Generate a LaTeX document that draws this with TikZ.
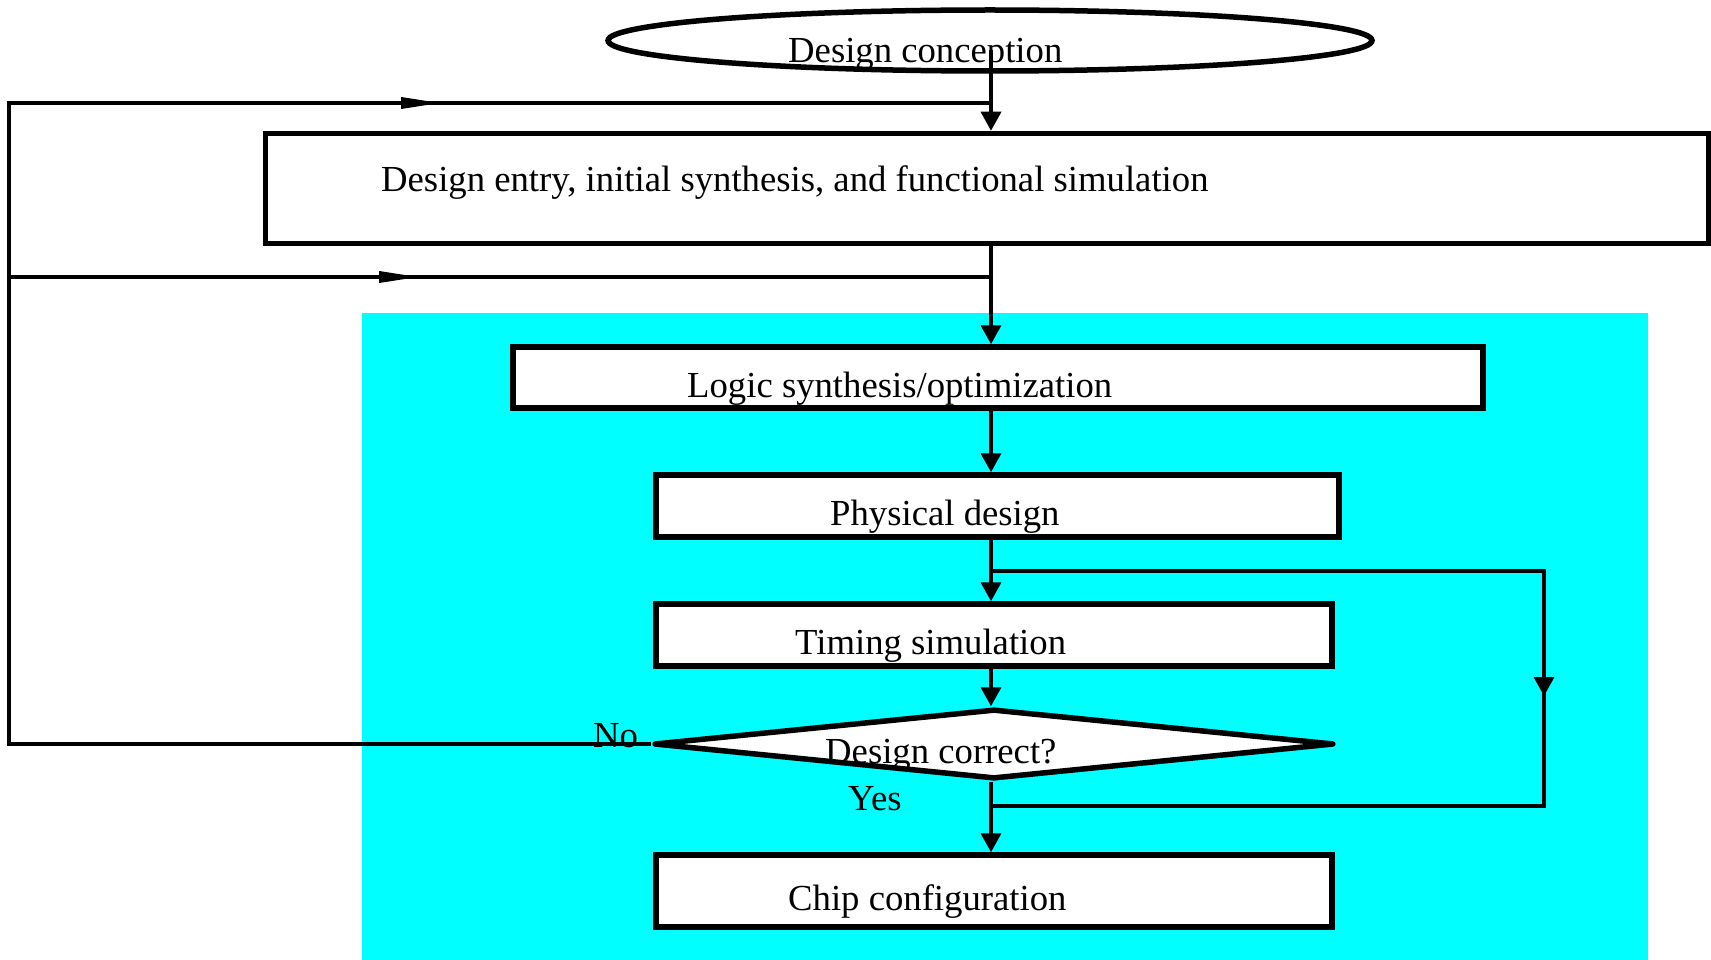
\documentclass[tikz,border=0pt]{standalone}
\usepackage{fontspec}
\setmainfont{Liberation Serif}
\usetikzlibrary{shapes.geometric,arrows.meta,decorations.markings,calc}
\definecolor{panelcyan}{RGB}{0,255,255}
\begin{document}
\begin{tikzpicture}[x=1pt,y=-1pt,
  box/.style={rectangle,draw,line width=5.5pt,fill=white,inner sep=0pt},
  lbl/.style={anchor=base west,inner sep=0pt,font=\fontsize{36.7}{44}\selectfont},
  conn/.style={line width=3.5pt},
  vtip/.style={-{Triangle[length=19pt,width=20pt]}},
  hmark/.style={postaction={decorate},
    decoration={markings,mark=at position #1 with {\arrow{Triangle[length=40pt,width=11pt]}}}},
  vmark/.style={postaction={decorate},
    decoration={markings,mark=at position #1 with {\arrow{Triangle[length=19pt,width=20pt]}}}}]
  \useasboundingbox (0,0) rectangle (1711,960);

  % shaded panel behind the implementation steps
  \fill[panelcyan] (362,313) rectangle (1648,960);

  % flow chart shapes
  \node[ellipse,draw,line width=5.5pt,fill=white,inner sep=0pt,
        minimum width=764pt,minimum height=61pt] (concept) at (990,40.5) {};
  \node[box,minimum width=1443pt,minimum height=110pt] (entry) at (987,188.5) {};
  \node[box,minimum width=970pt,minimum height=61pt] (logic) at (998,377.5) {};
  \node[box,minimum width=683pt,minimum height=62pt] (phys) at (997.5,506) {};
  \node[box,minimum width=676pt,minimum height=62pt] (timing) at (994,635) {};
  \node[diamond,draw,line width=5.5pt,fill=white,inner sep=0pt,line join=round,
        minimum width=680pt,minimum height=70pt] (check) at (994,744) {};
  \node[box,minimum width=676pt,minimum height=72pt] (chip) at (994,891) {};

  % texts
  \node[lbl] (concept-t) at (788,63) {Design conception};
  \node[lbl] (entry-t) at (381,192) {Design entry, initial synthesis, and functional simulation};
  \node[lbl] (logic-t) at (687,397) {Logic synthesis/optimization};
  \node[lbl] (phys-t) at (830,525) {Physical design};
  \node[lbl] (timing-t) at (795,654) {Timing simulation};
  \node[lbl] (check-t) at (825,763) {Design correct?};
  \node[lbl] (no-t) at (593,747) {No};
  \node[lbl] (yes-t) at (848,810) {Yes};
  \node[lbl] (chip-t) at (788,910) {Chip configuration};

  % helper coordinates for the routing
  \coordinate (spine) at (991,0);
  \coordinate (fbx) at (9,0);
  \coordinate (rx) at (1544,0);
  \coordinate (topjoin) at (991,103);
  \coordinate (midjoin) at (991,277);
  \coordinate (split) at (991,571);
  \coordinate (merge) at (991,806);

  % main flow
  \draw[conn,vtip] ($(concept.center -| spine)+(0,10)$) -- (entry.north -| spine);
  \draw[conn,vtip] (entry.south -| spine) -- (logic.north -| spine);
  \draw[conn,vtip] (logic.south -| spine) -- (phys.north -| spine);
  \draw[conn,vtip] (phys.south -| spine) -- (timing.north -| spine);
  \draw[conn,vtip] (timing.south -| spine) -- (check.north -| spine);
  \draw[conn,vtip] (check.south -| spine) -- (chip.north -| spine);

  % feedback on "No"
  \draw[conn,hmark=-550pt] (check.west) -- (check.west -| fbx) -- (fbx |- topjoin) -- (topjoin);
  \draw[conn,hmark=410pt] (fbx |- midjoin) -- (midjoin);

  % bypass of the timing check
  \draw[conn,vmark=678pt] (split) -- (split -| rx) -- (merge -| rx) -- (merge);
\end{tikzpicture}
\end{document}
